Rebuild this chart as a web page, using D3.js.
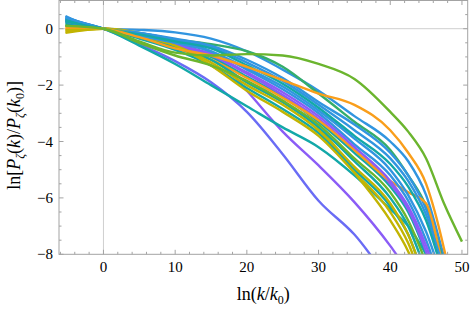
<!DOCTYPE html>
<html lang="en">
  <head>
    <meta charset="utf-8">
    <title>Power spectrum ratio</title>
    <script src="https://d3js.org/d3.v7.min.js"></script>
    <style>
      html, body { margin: 0; padding: 0; background: #fff; }
      svg { display: block; font-family: "Liberation Serif", "DejaVu Serif", serif; }
      .tick-label { font-size: 15px; fill: #000; }
      .axis-label { font-size: 18px; fill: #000; }
    </style>
  </head>
  <body>
    <svg id="chart" width="472" height="311"></svg>
    <script>
      // sample points along ln(k/k0), shared by every curve
      var lnK = [-5.3, 0, 5, 10, 15, 20, 25, 30, 35, 40, 42.5, 45, 47.5, 50];

      // ln[P(k)/P(k0)], one row per curve
      var curves = [
        [0.35, 0, -0.55, -1.15, -1.9, -2.95, -4.45, -6.1, -7.3, -8.9, -9.5, -10, -10.6, -11.2],   // lowest
        [0.1, 0, -0.2, -0.45, -0.85, -2.2, -3.65, -4.85, -6.15, -7.7, -8.6, -9.4, -10.2, -11],
        [0.3, 0, -0.6, -1.25, -2.0, -2.75, -3.5, -4.2, -5.2, -6.4, -7.0, -8.0, -9.2, -10.5],
        [0.45, 0, -0.04, -0.13, -0.35, -0.8, -1.45, -2.2, -3.1, -4.0, -4.7, -5.9, -8.1, -10.5],
        [0.15, 0, -0.18, -0.38, -0.55, -0.8, -1.35, -2.3, -3.3, -4.3, -5.2, -6.3, -8.3, -10.5],
        [0.4, 0, -0.15, -0.35, -0.6, -1.1, -1.75, -2.6, -3.4, -4.4, -5.2, -6.4, -8.4, -10.5],
        [0.35, 0, -0.3, -0.6, -1.0, -1.7, -2.4, -3.3, -4.4, -5.6, -6.5, -8.0, -10, -11],
        [-0.15, 0, -0.15, -0.55, -1.1, -1.9, -2.6, -3.5, -5.1, -6.8, -7.9, -9.5, -11, -12],
        [0.3, 0, -0.3, -0.6, -0.95, -1.6, -2.35, -3.2, -4.3, -5.5, -6.4, -7.9, -9.8, -11],
        [0.0, 0, -0.3, -0.7, -1.1, -1.75, -2.45, -3.25, -4.3, -5.4, -5.8, -6.2, -8.6, -11],
        [0.3, 0, -0.15, -0.4, -0.65, -1.2, -1.85, -2.7, -3.6, -4.6, -5.4, -6.6, -8.5, -10],
        [0.2, 0, -0.35, -0.75, -1.3, -2.1, -2.85, -3.7, -5.0, -6.3, -7.3, -9.0, -10.5, -11.5],
        [-0.1, 0, -0.2, -0.6, -1.3, -2.2, -2.95, -3.8, -5.1, -6.5, -7.6, -9.3, -10.5, -11.5],
        [0.35, 0, -0.15, -0.4, -0.8, -1.45, -2.15, -3.0, -4.1, -5.2, -6.1, -7.5, -9.3, -10.5],
        [0.25, 0, -0.25, -0.55, -0.9, -1.55, -2.25, -3.1, -4.2, -5.4, -6.3, -7.7, -9.5, -10.5],
        [0.3, 0, -0.3, -0.65, -1.1, -1.9, -2.6, -3.5, -4.7, -6.0, -7.0, -8.6, -10.2, -11.5],
        [-0.05, 0, -0.25, -0.6, -1.2, -2.0, -2.7, -3.6, -4.9, -6.2, -7.3, -9.0, -10.5, -11.5],
        [0.4, 0, -0.25, -0.5, -0.8, -1.4, -2.05, -2.9, -3.9, -5.0, -5.9, -7.2, -9.0, -10.5],
        [0.1, 0, -0.5, -0.95, -1.3, -1.85, -2.55, -3.4, -4.6, -5.8, -6.8, -8.3, -10, -11],
        [0.25, 0, -0.2, -0.45, -0.7, -1.3, -1.95, -2.8, -3.8, -4.8, -5.6, -6.8, -8.7, -10],
        [0.05, 0, -0.3, -0.7, -0.95, -1.35, -1.82, -2.3, -2.7, -3.6, -4.4, -5.5, -7.8, -11],
        [0.1, 0, -0.45, -0.85, -0.95, -0.9, -0.95, -1.25, -1.78, -2.95, -3.65, -4.6, -6.2, -7.55]  // top green
      ];

      var curveColors = [
        "#6a6cf5", "#8b5cf6", "#13a8a8", "#3195e0", "#35ad6b",
        "#3195e0", "#13a8a8", "#c2b402", "#8b5cf6", "#f99e1b",
        "#3195e0", "#13a8a8", "#c2b402", "#3195e0", "#8b5cf6",
        "#13a8a8", "#c2b402", "#3195e0", "#6bb52e", "#13a8a8",
        "#f99e1b", "#6bb52e"
      ];

      var xMajor = [0, 10, 20, 30, 40, 50];
      var yMajor = [-8, -6, -4, -2, 0];

      var svg = d3.select('#chart');
      var pLeft = 59, pRight = 467.7, pTop = 0.5, pBottom = 254.3;

      var x = d3.scaleLinear().domain([-6.2, 50.8]).range([pLeft, pRight]);
      var y = d3.scaleLinear().domain([-8, 1]).range([pBottom, pTop]);

      svg.append('clipPath').attr('id', 'plot-clip')
        .append('rect')
          .attr('x', pLeft).attr('y', pTop)
          .attr('width', pRight - pLeft).attr('height', pBottom - pTop);

      // zero lines
      svg.append('line')
        .attr('x1', x(0)).attr('x2', x(0)).attr('y1', pTop).attr('y2', pBottom)
        .attr('stroke', '#cfcfcf').attr('stroke-width', 1);
      svg.append('line')
        .attr('x1', pLeft).attr('x2', pRight).attr('y1', y(0)).attr('y2', y(0))
        .attr('stroke', '#cfcfcf').attr('stroke-width', 1);

      var line = d3.line()
        .x((d, i) => x(lnK[i]))
        .y(d => y(d))
        .curve(d3.curveMonotoneX);

      svg.append('g')
        .attr('clip-path', 'url(#plot-clip)')
        .selectAll('path')
        .data(curves)
        .enter().append('path')
          .attr('d', line)
          .attr('fill', 'none')
          .attr('stroke', (d, i) => curveColors[i])
          .attr('stroke-width', 2.4)
          .attr('stroke-linejoin', 'round');

      // frame with inward ticks on all four sides
      var frame = svg.append('g').attr('stroke', '#a3a3a3').attr('stroke-width', 1);
      frame.append('rect')
        .attr('x', pLeft).attr('y', pTop)
        .attr('width', pRight - pLeft).attr('height', pBottom - pTop)
        .attr('fill', 'none');

      var xMinor = d3.range(-6, 51, 2).filter(v => xMajor.indexOf(v) < 0);
      var yMinor = d3.range(-7.5, 1.01, 0.5).filter(v => yMajor.indexOf(v) < 0);

      function xTicks(vals, len) {
        vals.forEach(function(v) {
          frame.append('line').attr('x1', x(v)).attr('x2', x(v)).attr('y1', pBottom).attr('y2', pBottom - len);
          frame.append('line').attr('x1', x(v)).attr('x2', x(v)).attr('y1', pTop).attr('y2', pTop + len);
        });
      }
      function yTicks(vals, len) {
        vals.forEach(function(v) {
          frame.append('line').attr('y1', y(v)).attr('y2', y(v)).attr('x1', pLeft).attr('x2', pLeft + len);
          frame.append('line').attr('y1', y(v)).attr('y2', y(v)).attr('x1', pRight).attr('x2', pRight - len);
        });
      }
      xTicks(xMajor, 4.5); xTicks(xMinor, 2.5);
      yTicks(yMajor, 4.5); yTicks(yMinor, 2.5);

      svg.selectAll('.xl').data(xMajor).enter().append('text')
        .attr('class', 'tick-label')
        .attr('x', d => x(d)).attr('y', pBottom + 18)
        .attr('text-anchor', 'middle')
        .text(d => d);

      svg.selectAll('.yl').data(yMajor).enter().append('text')
        .attr('class', 'tick-label')
        .attr('x', pLeft - 6).attr('y', d => y(d) + 5)
        .attr('text-anchor', 'end')
        .text(d => d < 0 ? '\u2212' + Math.abs(d) : d);

      // x axis label: ln(k/k0)
      var xl = svg.append('text').attr('class', 'axis-label')
        .attr('x', (pLeft + pRight) / 2).attr('y', 300)
        .attr('text-anchor', 'middle');
      xl.append('tspan').text('ln(');
      xl.append('tspan').attr('font-style', 'italic').text('k');
      xl.append('tspan').text('/');
      xl.append('tspan').attr('font-style', 'italic').text('k');
      xl.append('tspan').attr('font-size', '12px').attr('dy', 4).text('0');
      xl.append('tspan').attr('dy', -4).text(')');

      // y axis label: ln[P_zeta(k)/P_zeta(k0)]
      var yl = svg.append('text').attr('class', 'axis-label')
        .attr('transform', 'translate(20,' + ((pTop + pBottom) / 2 + 8) + ') rotate(-90)')
        .attr('text-anchor', 'middle');
      yl.append('tspan').text('ln[');
      yl.append('tspan').attr('font-style', 'italic').text('P');
      yl.append('tspan').attr('font-style', 'italic').attr('font-size', '12px').attr('dy', 4).text('\u03b6');
      yl.append('tspan').attr('dy', -4).text('(');
      yl.append('tspan').attr('font-style', 'italic').text('k');
      yl.append('tspan').text(')/');
      yl.append('tspan').attr('font-style', 'italic').text('P');
      yl.append('tspan').attr('font-style', 'italic').attr('font-size', '12px').attr('dy', 4).text('\u03b6');
      yl.append('tspan').attr('dy', -4).text('(');
      yl.append('tspan').attr('font-style', 'italic').text('k');
      yl.append('tspan').attr('font-size', '12px').attr('dy', 4).text('0');
      yl.append('tspan').attr('dy', -4).text(')]');
    </script>
  </body>
</html>
